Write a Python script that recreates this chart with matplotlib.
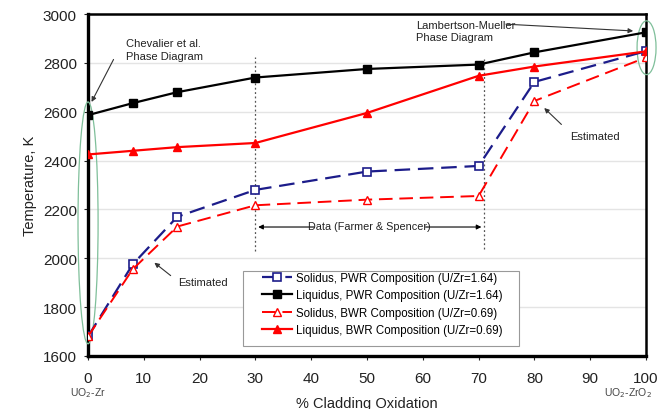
import matplotlib
matplotlib.use("Agg")
import matplotlib.pyplot as plt
from matplotlib.patches import Ellipse, Rectangle

oxidation = [0, 8, 16, 30, 50, 70, 80, 100]
solidus_pwr = [1680, 1975, 2170, 2280, 2355, 2378, 2722, 2848]
liquidus_pwr = [2586, 2635, 2680, 2740, 2775, 2793, 2843, 2925]
solidus_bwr = [1680, 1955, 2130, 2217, 2240, 2255, 2644, 2822]
liquidus_bwr = [2425, 2440, 2455, 2472, 2595, 2747, 2785, 2847]

labels = ["Solidus, PWR Composition (U/Zr=1.64)",
          "Liquidus, PWR Composition (U/Zr=1.64)",
          "Solidus, BWR Composition (U/Zr=0.69)",
          "Liquidus, BWR Composition (U/Zr=0.69)"]
xticks = list(range(0, 101, 10))
yticks = list(range(1600, 3001, 200))

plt.rcParams['font.family'] = ['Liberation Sans', 'DejaVu Sans']

fig = plt.figure(figsize=(6.67, 4.10), dpi=100)
ax = fig.add_axes([0.132, 0.1293, 0.8365, 0.8341])

navy = '#1c1c8a'
red = '#ff0000'
dash = (0, (7, 3.5))
ax.plot(oxidation, solidus_pwr, color=navy, ls=dash, lw=1.6, marker='s',
        ms=6, mfc='white', mec=navy, mew=1.2, label=labels[0], zorder=4)
ax.plot(oxidation, liquidus_pwr, color='black', ls='-', lw=1.6, marker='s',
        ms=6, mfc='black', mec='black', label=labels[1], zorder=4)
ax.plot(oxidation, solidus_bwr, color=red, ls=dash, lw=1.4, marker='^',
        ms=6, mfc='white', mec=red, mew=1.0, label=labels[2], zorder=4)
ax.plot(oxidation, liquidus_bwr, color=red, ls='-', lw=1.6, marker='^',
        ms=6, mfc=red, mec=red, label=labels[3], zorder=4)

ax.set_xlim(0, 100)
ax.set_ylim(1600, 3000)
ax.set_xticks(xticks)
ax.set_yticks(yticks)
ax.yaxis.grid(True, color='#e4e4e4', lw=1.0)
ax.set_axisbelow(True)
ax.tick_params(labelsize=11, colors='#222222', length=3, direction='out')
ax.tick_params(axis='x', pad=8)
ax.tick_params(axis='y', pad=5)
for s in ['left', 'bottom']:
    ax.spines[s].set_linewidth(2.4)
for s in ['top', 'right']:
    ax.spines[s].set_linewidth(1.8)
ax.set_xlabel('% Cladding Oxidation', fontsize=10.5, color='#222222', labelpad=8)
ax.set_ylabel('Temperature, K', fontsize=10.5, color='#222222', labelpad=4)

# dotted data bounds
ax.plot([30, 30], [2030, 2825], color='#555555', ls=(0, (1.5, 2)), lw=0.9, zorder=2)
ax.plot([71, 71], [2040, 2825], color='#555555', ls=(0, (1.5, 2)), lw=0.9, zorder=2)
ax.annotate('', xy=(30, 2128), xytext=(41, 2128),
            arrowprops=dict(arrowstyle='-|>', color='black', lw=0.8, mutation_scale=7))
ax.annotate('', xy=(71, 2128), xytext=(60, 2128),
            arrowprops=dict(arrowstyle='-|>', color='black', lw=0.8, mutation_scale=7))
ax.text(50.5, 2132, 'Data (Farmer & Spencer)', fontsize=7.8, ha='center', va='center',
        color='#222222')

# ellipses
ax.add_patch(Ellipse((0, 2145), 3.6, 990, fill=False, ec='#7fbf9a', lw=0.9,
                     clip_on=False, zorder=3))
ax.add_patch(Ellipse((100.1, 2862), 3.4, 220, fill=False, ec='#7fbf9a', lw=0.9,
                     clip_on=False, zorder=3))

# annotations
ax.text(6.8, 2855, 'Chevalier et al.\nPhase Diagram', fontsize=8, color='#222222',
        va='center', ha='left', linespacing=1.3)
ax.annotate('', xy=(0.4, 2630), xytext=(4.8, 2824),
            arrowprops=dict(arrowstyle='-|>', color='#333333', lw=0.8, mutation_scale=7))
ax.text(58.8, 2930, 'Lambertson-Mueller\nPhase Diagram', fontsize=8, color='#222222',
        va='center', ha='left', linespacing=1.3)
ax.annotate('', xy=(98.2, 2930), xytext=(74.4, 2959),
            arrowprops=dict(arrowstyle='-|>', color='#333333', lw=0.8, mutation_scale=7))
ax.text(86.4, 2500, 'Estimated', fontsize=8, color='#222222', va='center', ha='left')
ax.annotate('', xy=(81.4, 2623), xytext=(85.2, 2540),
            arrowprops=dict(arrowstyle='-|>', color='#333333', lw=0.8, mutation_scale=7))
ax.text(16.1, 1903, 'Estimated', fontsize=8, color='#222222', va='center', ha='left')
ax.annotate('', xy=(11.5, 1989), xytext=(15.2, 1922),
            arrowprops=dict(arrowstyle='-|>', color='#333333', lw=0.8, mutation_scale=7))

# sub labels
ax.text(0, -0.106, 'UO$_2$-Zr', transform=ax.get_xaxis_transform(), fontsize=7.5,
        color='#444444', ha='center', va='center')
ax.text(101.0, -0.106, 'UO$_2$-ZrO$_2$', transform=ax.get_xaxis_transform(), fontsize=7.5,
        color='#444444', ha='right', va='center')

# legend box and entries
ax.add_patch(Rectangle((0.278, 0.029), 0.494, 0.220, transform=ax.transAxes,
                       facecolor='white', edgecolor='#999999', lw=0.8, zorder=5))
leg = ax.legend(loc='upper left', bbox_to_anchor=(0.312, 0.245), fontsize=8.3,
                frameon=False, handlelength=2.6, handletextpad=0.3, borderpad=0,
                borderaxespad=0, labelspacing=0.45)
leg.set_zorder(6)

fig.savefig('out.png', dpi=100)
